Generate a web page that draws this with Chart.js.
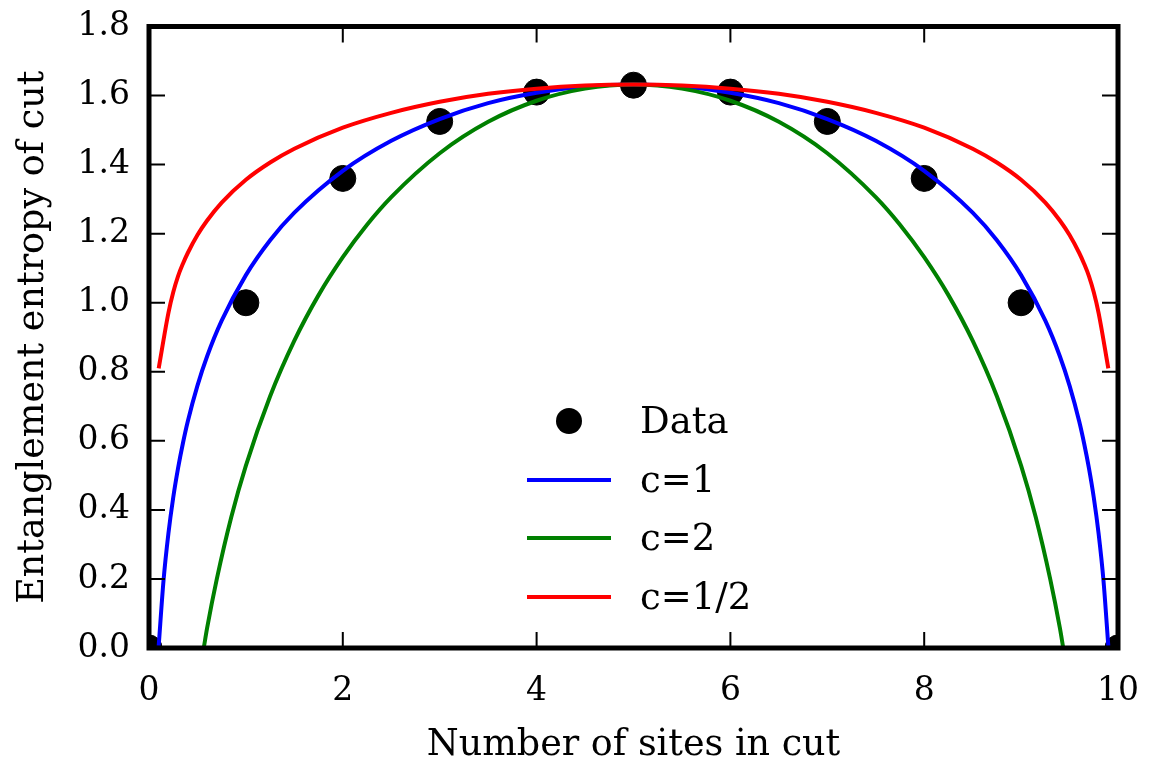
<!DOCTYPE html>
<html>
<head>
<meta charset="utf-8">
<script src="https://cdn.jsdelivr.net/npm/chart.js@4"></script>
<style>
  html, body { margin: 0; padding: 0; background: #fff; }
  #wrap { width: 1149px; height: 767px; }
</style>
</head>
<body>
<div id="wrap"><canvas id="chart" width="1149" height="767"></canvas></div>
<script>
const FONT = "'DejaVu Serif', 'Liberation Serif', serif";
const TICK_SIZE = 33;
const TITLE_SIZE = 36.5;
const LEGEND_SIZE = 37;

// measured entanglement entropy, one point per cut position
const cutSites = [0, 1, 2, 3, 4, 5, 6, 7, 8, 9, 10];
const dataEntropy = [0, 1.0, 1.36, 1.525, 1.61, 1.63, 1.61, 1.525, 1.36, 1.0, 0];

// fitted curves
const fitX1 = [0.1, 0.15, 0.2, 0.25, 0.3, 0.35, 0.4, 0.5, 0.6, 0.75, 1, 1.25, 1.5, 2, 2.5, 3, 3.5, 4, 4.5, 5,
  5.5, 6, 6.5, 7, 7.5, 8, 8.5, 8.75, 9, 9.25, 9.4, 9.5, 9.6, 9.65, 9.7, 9.75, 9.8, 9.85, 9.9];
const fitC1 = [0.006, 0.196, 0.331, 0.436, 0.521, 0.593, 0.656, 0.760, 0.845, 0.948, 1.080, 1.181, 1.261, 1.382, 1.469, 1.532, 1.578, 1.608, 1.626, 1.632,
  1.626, 1.608, 1.578, 1.532, 1.469, 1.382, 1.261, 1.181, 1.080, 0.948, 0.845, 0.760, 0.656, 0.593, 0.521, 0.436, 0.331, 0.196, 0.006];

const fitX2 = [0.565, 0.6, 0.7, 0.85, 1, 1.25, 1.5, 1.75, 2, 2.25, 2.5, 3, 3.5, 4, 4.5, 5,
  5.5, 6, 6.5, 7, 7.5, 7.75, 8, 8.25, 8.5, 8.75, 9, 9.15, 9.3, 9.4, 9.435];
const fitC2 = [0, 0.058, 0.20, 0.38, 0.528, 0.729, 0.89, 1.022, 1.132, 1.226, 1.306, 1.433, 1.524, 1.585, 1.62, 1.632,
  1.62, 1.585, 1.524, 1.433, 1.306, 1.226, 1.132, 1.022, 0.89, 0.729, 0.528, 0.38, 0.20, 0.058, 0];

const fitXHalf = [0.1, 0.2, 0.25, 0.3, 0.35, 0.4, 0.5, 0.6, 0.75, 1, 1.25, 1.5, 2, 2.5, 3, 3.5, 4, 4.5, 5,
  5.5, 6, 6.5, 7, 7.5, 8, 8.5, 8.75, 9, 9.25, 9.4, 9.5, 9.6, 9.65, 9.7, 9.75, 9.8, 9.9];
const fitCHalf = [0.81, 0.97, 1.03, 1.077, 1.113, 1.144, 1.196, 1.238, 1.290, 1.356, 1.406, 1.446, 1.507, 1.55, 1.582, 1.605, 1.62, 1.629, 1.632,
  1.629, 1.62, 1.605, 1.582, 1.55, 1.507, 1.446, 1.406, 1.356, 1.290, 1.238, 1.196, 1.144, 1.113, 1.077, 1.03, 0.97, 0.81];

const xTicks = [0, 2, 4, 6, 8, 10];
const yTicks = [0, 0.2, 0.4, 0.6, 0.8, 1.0, 1.2, 1.4, 1.6, 1.8];

const legendItems = ["Data", "c=1", "c=2", "c=1/2"];

function pts(xs, ys) {
  return xs.map((x, i) => ({ x, y: ys[i] }));
}

function lineSet(label, xs, ys, color, order) {
  return {
    type: "line",
    label,
    data: pts(xs, ys),
    borderColor: color,
    borderWidth: 4,
    pointRadius: 0,
    fill: false,
    cubicInterpolationMode: "monotone",
    order,
  };
}

/* ── frame, inward ticks and legend ── */
const framePlugin = {
  id: "frame",
  afterDraw(chart) {
    const { ctx, chartArea: a, scales } = chart;
    const tick = 16;
    ctx.save();
    ctx.strokeStyle = "#000";
    ctx.lineWidth = 2;
    ctx.beginPath();
    xTicks.forEach((v) => {
      const px = scales.x.getPixelForValue(v);
      ctx.moveTo(px, a.bottom); ctx.lineTo(px, a.bottom - tick);
      ctx.moveTo(px, a.top); ctx.lineTo(px, a.top + tick);
    });
    yTicks.forEach((v) => {
      const py = scales.y.getPixelForValue(v);
      ctx.moveTo(a.left, py); ctx.lineTo(a.left + tick, py);
      ctx.moveTo(a.right, py); ctx.lineTo(a.right - tick, py);
    });
    ctx.stroke();

    ctx.lineWidth = 5;
    ctx.strokeRect(a.left, a.top, a.right - a.left, a.bottom - a.top);

    // legend
    const colors = [null, "#0000ff", "#008000", "#ff0000"];
    const x0 = 527, x1 = 611, tx = 640;
    const rows = [421, 480, 538, 597];
    ctx.font = LEGEND_SIZE + "px " + FONT;
    ctx.textBaseline = "middle";
    ctx.fillStyle = "#000";
    legendItems.forEach((txt, i) => {
      const y = rows[i];
      if (i === 0) {
        ctx.beginPath();
        ctx.arc((x0 + x1) / 2, y, 13, 0, Math.PI * 2);
        ctx.fill();
      } else {
        ctx.strokeStyle = colors[i];
        ctx.lineWidth = 4;
        ctx.beginPath();
        ctx.moveTo(x0, y); ctx.lineTo(x1, y);
        ctx.stroke();
      }
      ctx.fillStyle = "#000";
      ctx.fillText(txt, tx, y + 2);
    });
    ctx.restore();
  },
};

new Chart(document.getElementById("chart"), {
  data: {
    datasets: [
      {
        type: "scatter",
        label: "Data",
        data: pts(cutSites, dataEntropy),
        backgroundColor: "#000",
        borderColor: "#000",
        pointRadius: 13,
        pointHoverRadius: 13,
        clip: 0,
        order: 4,
      },
      lineSet("c=1", fitX1, fitC1, "#0000ff", 3),
      lineSet("c=2", fitX2, fitC2, "#008000", 2),
      lineSet("c=1/2", fitXHalf, fitCHalf, "#ff0000", 1),
    ],
  },
  options: {
    responsive: false,
    animation: false,
    layout: { padding: { left: 0, right: 31, top: 26.5, bottom: 0 } },
    plugins: { legend: { display: false }, tooltip: { enabled: false } },
    scales: {
      x: {
        type: "linear",
        min: 0,
        max: 10,
        grid: { display: false },
        border: { display: false },
        ticks: {
          stepSize: 2,
          padding: 16,
          color: "#000",
          font: { family: FONT, size: TICK_SIZE },
          maxRotation: 0,
        },
        title: {
          display: true,
          text: "Number of sites in cut",
          color: "#000",
          font: { family: FONT, size: TITLE_SIZE },
          padding: { top: 10, bottom: 0 },
        },
        afterFit(s) {
          s.height = 767 - 648;
          s.paddingLeft = 0;
          s.paddingRight = 0;
        },
      },
      y: {
        type: "linear",
        min: 0,
        max: 1.8,
        grid: { display: false },
        border: { display: false },
        ticks: {
          stepSize: 0.2,
          padding: 11,
          color: "#000",
          font: { family: FONT, size: TICK_SIZE },
          callback: (v) => v.toFixed(1),
        },
        title: {
          display: true,
          text: "Entanglement entropy of cut",
          color: "#000",
          font: { family: FONT, size: TITLE_SIZE },
          padding: { top: 12, bottom: 8 },
        },
        afterFit(s) {
          s.width = 149;
          s.paddingTop = 0;
          s.paddingBottom = 0;
        },
      },
    },
  },
  plugins: [framePlugin],
});
</script>
</body>
</html>
